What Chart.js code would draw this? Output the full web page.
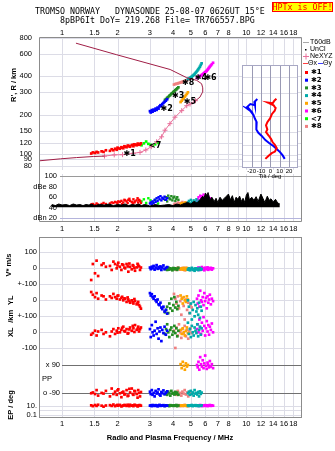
<!DOCTYPE html>
<html>
<head>
<meta charset="utf-8">
<script src="https://cdn.jsdelivr.net/npm/chart.js@4.4.1/dist/chart.umd.min.js"></script>
<style>
  html, body { margin: 0; padding: 0; background: #fff; }
  body { width: 335px; height: 451px; position: relative; overflow: hidden; }
  canvas { position: absolute; }
</style>
</head>
<body>
<canvas id="cHeight" width="335" height="175" style="left:0;top:0"></canvas>
<canvas id="cAmp" width="335" height="66" style="left:0;top:170px"></canvas>
<canvas id="cMid" width="335" height="219" style="left:0;top:232px"></canvas>
<canvas id="cTilt" width="70" height="125" style="left:237px;top:60px"></canvas>
<script>
// ---- axes ----
const FREQ_MIN = 0.75, FREQ_MAX = 20.05;
const freqTicks = [1, 1.5, 2, 3, 4, 5, 6, 7, 8, 10, 12, 14, 16, 18];
const freqTicksAmp = [1, 1.5, 2, 3, 4, 5, 6, 7, 8, 9, 10, 12, 14, 16, 18];
const heightTicks = [80, 90, 100, 120, 150, 200, 300, 400, 600, 800];
const ampTicks = [100, 80, 60, 40, 20];
const ampTickText = ['100', 'dBe 80', '60', '40', 'dBn 20'];
const tiltTicks = [-20, -10, 0, 10, 20];

// ---- electron density profile (plasma frequency MHz, real height km) ----
const profLowFreq = [0.75, 0.98, 1.2, 1.48, 1.7];
const profLowHeight = [87.7, 90.9, 93, 94.8, 95.5];
const neFreq = [1.7, 1.92, 2.13, 2.44, 2.65, 2.85, 3.05, 3.26, 3.47, 3.62, 3.85, 4.10, 4.46, 4.75, 4.95, 5.3];
const neHeight = [95.5, 97.6, 98, 100.5, 102, 106.6, 113, 123.6, 135, 152, 171, 192, 216, 236, 243, 258];
const profTopFreq = [5.3, 5.6, 5.78, 5.8, 5.72, 5.38, 4.75, 3.86, 1.98, 1.19];
const profTopHeight = [258, 275, 300, 325, 350, 372, 390, 452, 589, 725];

// ---- echo classes: frequency, range, amplitude, V*, YL, XL, PP, EP ----
const c1Freq = [1.44,1.47,1.51,1.54,1.57,1.64,1.68,1.73,1.82,1.86,1.90,1.94,1.98,2.00,2.02,2.06,2.10,2.12,2.15,2.18,2.20,2.24,2.27,2.29,2.32,2.34,2.39,2.42,2.44,2.47,2.49,2.54,2.57,2.59,2.62,2.65,2.68];
const c1Range = [100,102,101,103,102,104,103,106,105,108,106,109,107,111,110,109,112,111,110,114,113,112,115,115,114,113,116,117,114,118,117,116,119,119,117,118,120];
const c1Amp = [46,47,45,48,46,47,49,47,48,50,49,51,50,48,52,51,53,47,50,55,54,52,49,55,57,53,51,48,56,50,52,54,58,50,55,53,49];
const c1Vstar = [-73,27,-31,48,-48,21,31,10,15,-10,42,27,0,18,35,10,-10,25,21,5,0,27,12,-21,30,10,-6,20,15,2,-15,6,28,21,12,-10,5];
const c1YL = [52,35,20,45,10,30,25,5,25,15,40,20,10,28,30,5,15,22,0,12,10,-10,18,5,-5,-15,0,-12,-20,8,-5,-25,-18,-10,-30,-40,-52];
const c1XL = [-15,-5,10,-20,5,15,-10,0,-25,5,20,-10,10,-2,25,0,15,28,35,8,5,20,-8,-5,18,30,10,40,25,2,45,15,22,35,5,20,30];
const c1PP = [-90,-85,-95,-70,-105,-88,-92,-75,-110,-60,-95,-80,-100,-72,-65,-90,-115,-85,-80,-98,-95,-70,-108,-105,-62,-85,-60,-95,-100,-75,-78,-95,-118,-70,-88,-110,-82];
const c1EP = [12,8,14,9,16,10,6,11,13,9,18,8,12,15,10,15,7,9,11,14,13,9,16,12,8,16,10,12,8,15,14,11,7,9,13,13,10];

const c2Freq = [3.00,3.03,3.07,3.10,3.14,3.18,3.22,3.26,3.30,3.34,3.38,3.42,3.46,3.50,3.55,3.60,3.66,3.72];
const c2Range = [214,209,218,212,220,216,224,219,228,224,233,238,235,243,248,253,258,265];
const c2Amp = [48,50,46,52,49,55,51,58,53,60,56,62,54,59,57,61,55,58];
const c2Vstar = [5,-5,10,0,15,-8,5,20,-3,8,0,12,-10,5,18,-5,3,8];
const c2YL = [45,30,38,20,10,25,0,-10,5,-25,-30,-15,-45,-55,-40,-70,-60,-83];
const c2XL = [20,-30,45,0,-20,10,66,-10,25,-40,5,30,-55,15,-5,35,-15,10];
const c2PP = [-80,-95,-70,-100,-88,-110,-75,-92,-85,-65,-98,-105,-82,-90,-72,-96,-88,-78];
const c2EP = [10,12,8,14,11,9,13,10,7,12,15,9,11,10,13,8,12,10];

const c3Freq = [3.62,3.67,3.72,3.77,3.82,3.87,3.92,3.97,4.02,4.07,4.12,4.17,4.22,4.28];
const c3Range = [262,266,272,276,282,286,292,296,302,306,312,316,322,328];
const c3Amp = [55,60,52,63,58,56,62,54,59,61,53,57,60,55];
const c3Vstar = [-5,0,-10,5,-8,0,-3,-12,2,-6,0,-4,-9,3];
const c3YL = [-75,-60,-40,-80,-20,-50,10,-65,-30,20,-45,-10,-55,-35];
const c3XL = [-10,20,50,0,-30,15,30,-15,5,40,-5,25,-25,10];
const c3PP = [-95,-85,-100,-80,-90,-105,-75,-92,-88,-98,-82,-94,-86,-100];
const c3EP = [9,11,10,12,8,13,10,11,9,12,10,14,8,11];

const c4Freq = [4.82,4.88,4.94,5.00,5.06,5.12,5.18,5.24,5.30,5.36,5.42,5.48,5.54,5.60,5.66,5.72];
const c4Range = [380,384,388,393,398,404,410,417,425,433,442,452,463,475,490,505];
const c4Amp = [50,53,48,55,51,47,54,49,52,56,48,51,53,49,52,50];
const c4Vstar = [-8,0,-12,-5,3,-10,-3,-15,0,-7,-2,-11,-5,2,-9,-4];
const c4YL = [0,-40,-80,-20,-120,-60,-10,-100,-30,-70,-50,-90,-15,-110,-40,-65];
const c4XL = [60,-10,20,-30,40,0,-20,30,10,-5,50,-25,15,35,-15,25];
const c4PP = [-90,-80,-100,-75,-95,-85,-105,-70,-92,-88,-98,-82,-110,-78,-94,-86];
const c4EP = [11,9,12,10,14,8,11,10,13,9,12,10,8,11,10,12];

const c5Freq = [4.40,4.46,4.52,4.58,4.64,4.70,4.76,4.82];
const c5Range = [252,258,265,270,278,285,292,300];
const c5Amp = [47,49,46,48,50,47,49,48];
const c5Vstar = [-5,0,-8,3,-3,-10,2,-6];
const c5YL = [30,10,-20,20,0,-10,25,5];
const c5XL = [15,-10,25,0,-20,10,30,-5];
const c5PP = [95,70,110,85,60,100,80,90];
const c5EP = [10,12,9,11,13,10,8,12];

const c6Freq = [5.40,5.45,5.50,5.56,5.62,5.68,5.74,5.80,5.86,5.92,5.98,6.04,6.10,6.16,6.22,6.28,6.34,6.42,6.50,6.60];
const c6Range = [388,392,395,398,402,406,410,415,420,425,430,436,442,450,458,467,476,486,497,510];
const c6Amp = [52,56,60,54,63,58,62,55,65,60,57,63,59,54,61,56,58,52,55,50];
const c6Vstar = [0,-5,5,-10,2,-3,8,-7,0,-12,4,-2,-6,6,-9,1,-4,3,-8,0];
const c6YL = [10,-20,30,-40,60,0,-10,20,-30,45,-5,15,-50,25,-15,5,35,-25,10,-5];
const c6XL = [20,50,0,80,30,-10,60,10,95,40,-20,25,70,5,45,-15,35,15,55,0];
const c6PP = [90,75,110,60,140,95,80,120,70,100,150,85,65,105,90,75,115,80,95,70];
const c6EP = [10,12,9,11,14,10,8,12,11,9,13,10,12,8,11,10,14,9,12,10];

const c7Freq = [2.70,2.78,2.86,2.94,3.02,3.10,3.20,3.32];
const c7Range = [116,120,124,119,117,115,118,121];
const c7Amp = [52,56,49,58,54,50,55,48];

const c8Freq = [4.05,4.12,4.18,4.25,4.31,4.38,4.44,4.50,4.57,4.63,4.70,4.77,4.84,4.91,4.98,5.05];
const c8Range = [345,348,350,352,355,357,360,362,365,368,370,373,376,380,384,388];
const c8Amp = [46,48,45,50,47,49,46,51,48,45,50,47,49,46,48,47];
const c8Vstar = [-5,0,-10,5,-3,-8,0,2,-6,-12,3,-4,0,-7,-2,-5];
const c8YL = [40,10,-20,25,-50,-5,-90,15,-35,-120,5,-60,-15,-80,-30,-45];
const c8XL = [10,-98,30,-20,50,0,-35,20,-10,40,-25,15,-40,5,25,-5];
const c8PP = [-90,-82,-100,-75,-95,-88,-105,-80,-92,-70,-98,-85,-110,-90,-78,-95];
const c8EP = [10,12,9,11,13,8,10,12,9,14,11,10,8,12,10,11];

// trace labels in the height panel
const markText = ['✱1', '<7', '✱2', '✱3', '✱5', '✱8', '✱4', '✱6'];
const markFreq = [2.24, 3.08, 3.55, 4.10, 4.75, 4.65, 5.45, 6.15];
const markRange = [100, 114, 224, 283, 251, 357, 390, 390];

// ---- amplitude noise trace ----
const noiseFreq = [0.88,0.92,0.96,1.0,1.05,1.1,1.15,1.2,1.25,1.3,1.35,1.4,1.45,1.5,1.6,1.7,1.8,1.9,2.0,2.1,2.2,2.3,2.4,2.5,2.6,2.7,2.8,2.9,3.0,3.2,3.4,3.6,3.8,4.0,4.2,4.4,4.6,4.8,5.0,5.2,5.4,5.6,5.8,5.9,6.0,6.1,6.2,6.35,6.5,6.7,6.85,7.0,7.2,7.4,7.6,7.8,8.0,8.2,8.4,8.6,8.8,9.0,9.2,9.4,9.6,9.8,10.0,10.2,10.4,10.7,11.0,11.3,11.6,12.0,12.3,12.6,13.0,13.3,13.6,14.0,14.4,14.8,15.2];
const noiseDb = [46,44,47,45,46,44,47,45,46,44,46,45,47,44,46,45,47,44,46,45,47,44,46,45,47,44,46,45,43,46,44,45,46,44,47,45,48,50,47,52,49,55,62,58,68,63,69,55,60,52,58,50,60,54,58,62,66,55,63,50,60,56,62,52,58,50,64,69,55,60,54,61,52,66,58,50,62,54,57,51,56,49,47];

// ---- tilt inset ----
const thetaXHeight = [272,263,251,254,242,236,231,220,208,192,180,170,158,151,142,134,126,121,114,107,104,99,94];
const thetaX = [6.5,4.3,2.5,-2.5,3.6,4.7,5.7,4.7,1.8,-0.3,-3.2,-4.6,-3.2,-4.6,-1.8,0.7,2.5,4.7,6.8,5.0,1.5,-2.1,-5.3];
const thetaYHeight = [271,257,243,248,236,223,228,218,205,191,180,168,158,149,141,131,124,118,112,106,100,94];
const thetaY = [-13.9,-17.1,-16.4,-21.4,-24.6,-21.7,-24.6,-21.0,-18.1,-16.4,-14.6,-14.6,-15.3,-12.8,-9.2,-5.3,-1.0,3.2,6.8,10.4,13.2,15.4];

const CLASSES = [
  { name: '✱1', color: '#ff0000', f: c1Freq, r: c1Range, a: c1Amp, vs: c1Vstar, yl: c1YL, xl: c1XL, pp: c1PP, ep: c1EP },
  { name: '✱2', color: '#0000ff', f: c2Freq, r: c2Range, a: c2Amp, vs: c2Vstar, yl: c2YL, xl: c2XL, pp: c2PP, ep: c2EP },
  { name: '✱3', color: '#228b22', f: c3Freq, r: c3Range, a: c3Amp, vs: c3Vstar, yl: c3YL, xl: c3XL, pp: c3PP, ep: c3EP },
  { name: '✱4', color: '#00aaaa', f: c4Freq, r: c4Range, a: c4Amp, vs: c4Vstar, yl: c4YL, xl: c4XL, pp: c4PP, ep: c4EP },
  { name: '✱5', color: '#ffa500', f: c5Freq, r: c5Range, a: c5Amp, vs: c5Vstar, yl: c5YL, xl: c5XL, pp: c5PP, ep: c5EP },
  { name: '✱6', color: '#ff00ff', f: c6Freq, r: c6Range, a: c6Amp, vs: c6Vstar, yl: c6YL, xl: c6XL, pp: c6PP, ep: c6EP },
  { name: '<7', color: '#00ff00', f: c7Freq, r: c7Range, a: c7Amp },
  { name: '✱8', color: '#f08080', f: c8Freq, r: c8Range, a: c8Amp, vs: c8Vstar, yl: c8YL, xl: c8XL, pp: c8PP, ep: c8EP },
];

const FONT = '"Liberation Sans", Arial, sans-serif';
const MONO = '"DejaVu Sans Mono", monospace';
const GRID = '#dcdce6';
const FRAME = '#8c8c8c';
const MAROON = '#a01e46';
const PINK = '#e8709a';

// rows of the lower panel share one linear axis
const ROW_YL = -200, ROW_XL = -400;
const ppRow = v => -692.8 + v * 0.982;
const epRow = v => -859 + (Math.log10(v) - 1) * 28.1;

const pairs = (xs, ys) => xs.map((x, i) => ({ x, y: ys[i] }));
const crisp = v => Math.round(v) + 0.5;

function seg(ctx, x1, y1, x2, y2) {
  ctx.beginPath(); ctx.moveTo(x1, y1); ctx.lineTo(x2, y2); ctx.stroke();
}
function txt(ctx, s, x, y, align = 'center', font = '7.5px ' + FONT, color = '#000') {
  ctx.font = font; ctx.fillStyle = color; ctx.textAlign = align; ctx.textBaseline = 'middle';
  ctx.fillText(s, x, y);
}
function vtxt(ctx, s, x, y, font = '7.5px ' + FONT) {
  ctx.save(); ctx.translate(x, y); ctx.rotate(-Math.PI / 2);
  txt(ctx, s, 0, 0, 'center', font); ctx.restore();
}
function freqGrid(chart, ticks) {
  const { ctx, chartArea: a, scales: { x } } = chart;
  ctx.strokeStyle = GRID; ctx.lineWidth = 1;
  ticks.forEach(f => { const p = crisp(x.getPixelForValue(f)); seg(ctx, p, a.top, p, a.bottom); });
}

const echoStyle = c => ({
  backgroundColor: c.color, borderWidth: 0, pointStyle: 'rect', pointRadius: 1.9, showLine: false,
});
const baseOptions = (pad, y) => ({
  responsive: false, animation: false, devicePixelRatio: 1,
  layout: { padding: pad },
  scales: { x: { type: 'logarithmic', min: FREQ_MIN, max: FREQ_MAX, display: false }, y },
  plugins: { legend: { display: false }, tooltip: { enabled: false } },
});

// ---------- height panel ----------
const heightDeco = {
  id: 'heightDeco',
  beforeDatasetsDraw(chart) {
    const { ctx, chartArea: a, scales: { y } } = chart;
    ctx.save();
    freqGrid(chart, freqTicksAmp);
    heightTicks.forEach(h => { const p = crisp(y.getPixelForValue(h)); seg(ctx, a.left, p, a.right, p); });
    ctx.restore();
  },
  afterDatasetsDraw(chart) {
    const { ctx, scales: { x, y } } = chart;
    ctx.save();
    markText.forEach((t, i) => {
      txt(ctx, t, x.getPixelForValue(markFreq[i]) - 3, y.getPixelForValue(markRange[i]), 'left', 'bold 8px "DejaVu Sans"');
    });
    ctx.restore();
  },
  afterDraw(chart) {
    const { ctx, chartArea: a, scales: { x, y } } = chart;
    ctx.save();
    // header
    txt(ctx, 'TROMSO NORWAY   DYNASONDE 25-08-07 0626UT 15°E', 35, 12, 'left', '8.3px ' + MONO);
    txt(ctx, '8pBP6It DoY= 219.268 File= TR766557.BPG', 60, 21, 'left', '8.3px ' + MONO);
    ctx.fillStyle = '#ffff00'; ctx.fillRect(272, 2, 61, 10);
    ctx.strokeStyle = '#ff0000'; ctx.lineWidth = 1; ctx.strokeRect(272.5, 2.5, 60, 9);
    txt(ctx, 'HPTx is OFF!', 302.5, 7.5, 'center', '8.3px ' + MONO, '#ff0000');
    // frame
    ctx.strokeStyle = FRAME;
    seg(ctx, 39.5, a.top + 0.5, 39.5, 175); seg(ctx, 301.5, a.top + 0.5, 301.5, 175);
    seg(ctx, 39.5, a.top + 0.5, 301.5, a.top + 0.5);
    // ticks
    freqTicks.forEach(f => txt(ctx, String(f), x.getPixelForValue(f), 33));
    heightTicks.forEach(h => txt(ctx, String(h), 32, y.getPixelForValue(h), 'right'));
    vtxt(ctx, "R', R / km", 14, 85, 'bold 7.5px ' + FONT);
    // legend
    const lf = '7px ' + FONT;
    ctx.strokeStyle = '#a8a8a8'; seg(ctx, 303, 42.5, 309, 42.5); txt(ctx, 'T60dB', 310, 42.5, 'left', lf);
    ctx.fillStyle = '#000'; ctx.fillRect(305, 49, 1.5, 1.5); txt(ctx, 'UnCl', 310, 49.5, 'left', lf);
    ctx.strokeStyle = PINK; seg(ctx, 303, 56.5, 309, 56.5); seg(ctx, 306, 53.5, 306, 59.5);
    txt(ctx, 'NeXYZ', 310, 56.5, 'left', lf);
    ctx.strokeStyle = '#ff4040'; seg(ctx, 303, 63.5, 308, 63.5); txt(ctx, 'Θx', 308, 63.5, 'left', lf);
    ctx.strokeStyle = '#4040ff'; seg(ctx, 318, 63.5, 323, 63.5); txt(ctx, 'Θy', 323, 63.5, 'left', lf);
    CLASSES.forEach((c, i) => {
      const yy = 72.5 + i * 7.7;
      ctx.fillStyle = c.color; ctx.fillRect(305, yy - 1.5, 3, 3);
      txt(ctx, c.name, 311, yy, 'left', 'bold 7px "DejaVu Sans"');
    });
    ctx.restore();
  }
};

new Chart(document.getElementById('cHeight'), {
  type: 'scatter',
  data: {
    datasets: [
      { data: pairs(profLowFreq, profLowHeight), showLine: true, borderColor: MAROON, borderWidth: 1, pointRadius: 0 },
      { data: pairs(profTopFreq, profTopHeight), showLine: true, borderColor: MAROON, borderWidth: 1, pointRadius: 0 },
      { data: pairs(neFreq, neHeight), showLine: true, borderColor: PINK, borderWidth: 1,
        pointStyle: 'cross', pointRadius: 2.5, pointBorderColor: PINK, pointBorderWidth: 1 },
      ...CLASSES.map(c => ({ data: pairs(c.f, c.r), ...echoStyle(c) })),
    ]
  },
  options: baseOptions({ left: 39, right: 33, top: 37, bottom: 3 },
    { type: 'logarithmic', min: 74.4, max: 810, display: false }),
  plugins: [heightDeco]
});

// ---------- amplitude panel ----------
const ampDeco = {
  id: 'ampDeco',
  beforeDatasetsDraw(chart) {
    const { ctx, chartArea: a, scales: { y } } = chart;
    ctx.save();
    freqGrid(chart, freqTicksAmp);
    ctx.strokeStyle = '#9a9a9a'; let p = crisp(y.getPixelForValue(100)); seg(ctx, 60, p, a.right, p);
    ctx.strokeStyle = '#b4b4dc'; p = crisp(y.getPixelForValue(20)); seg(ctx, 60, p, a.right, p);
    ctx.restore();
  },
  afterDraw(chart) {
    const { ctx, chartArea: a, scales: { x, y } } = chart;
    ctx.save();
    ctx.strokeStyle = FRAME; ctx.lineWidth = 1;
    seg(ctx, 39.5, 0, 39.5, a.bottom - 0.5); seg(ctx, 301.5, 0, 301.5, a.bottom - 0.5);
    seg(ctx, 39.5, a.bottom - 0.5, 301.5, a.bottom - 0.5);
    ampTicks.forEach((v, i) => txt(ctx, ampTickText[i], 57, y.getPixelForValue(v), 'right'));
    freqTicksAmp.forEach(f => txt(ctx, String(f), x.getPixelForValue(f), a.bottom + 7));
    ctx.restore();
  }
};

new Chart(document.getElementById('cAmp'), {
  type: 'scatter',
  data: {
    datasets: [
      { data: pairs(noiseFreq, noiseDb), showLine: true, borderColor: '#000', borderWidth: 1, pointRadius: 0,
        backgroundColor: '#000', fill: { value: 41 } },
      ...CLASSES.map(c => ({ data: pairs(c.f, c.a), ...echoStyle(c), pointRadius: 1.7 })),
    ]
  },
  options: baseOptions({ left: 39, right: 33, top: 3, bottom: 14 },
    { type: 'linear', min: 12.5, max: 104.5, display: false }),
  plugins: [ampDeco]
});

// ---------- drift / location / polarisation panel ----------
const MID_TOP = 232;
function midPoints(c) {
  const pts = [];
  c.f.forEach((f, i) => {
    pts.push({ x: f, y: c.vs[i] });
    pts.push({ x: f, y: c.yl[i] + ROW_YL });
    pts.push({ x: f, y: c.xl[i] + ROW_XL });
    pts.push({ x: f, y: ppRow(c.pp[i]) });
    pts.push({ x: f, y: epRow(c.ep[i]) });
  });
  return pts;
}
const midLabels = [
  ['100', 100], ['0', 0], ['+-100', -100], ['0', ROW_YL], ['+-100', ROW_YL - 100],
  ['0', ROW_XL], ['-100', ROW_XL - 100], ['10.', epRow(10)], ['0.1', epRow(0.1)],
];
const midDeco = {
  id: 'midDeco',
  beforeDatasetsDraw(chart) {
    const { ctx, chartArea: a, scales: { y } } = chart;
    ctx.save();
    freqGrid(chart, freqTicksAmp);
    [100, 0, -100, ROW_YL, ROW_YL - 100, ROW_XL, ROW_XL - 100, epRow(10), epRow(1), epRow(0.1)].forEach(v => {
      const p = crisp(y.getPixelForValue(v)); seg(ctx, a.left, p, a.right, p);
    });
    ctx.strokeStyle = '#707070';
    [90, -90].forEach(v => { const p = crisp(y.getPixelForValue(ppRow(v))); seg(ctx, 62, p, a.right, p); });
    ctx.restore();
  },
  afterDraw(chart) {
    const { ctx, chartArea: a, scales: { x, y } } = chart;
    ctx.save();
    ctx.strokeStyle = FRAME; ctx.lineWidth = 1;
    ctx.strokeRect(39.5, a.top + 0.5, 262, a.bottom - a.top - 1);
    midLabels.forEach(([t, v]) => txt(ctx, t, 37, y.getPixelForValue(v), 'right'));
    txt(ctx, 'x 90', 60, y.getPixelForValue(ppRow(90)), 'right');
    txt(ctx, 'o -90', 60, y.getPixelForValue(ppRow(-90)), 'right');
    txt(ctx, 'PP', 42, y.getPixelForValue(ppRow(0)), 'left');
    const bf = 'bold 7.5px ' + FONT;
    vtxt(ctx, 'V* m/s', 9, 265 - MID_TOP, bf);
    vtxt(ctx, 'YL', 11, y.getPixelForValue(ROW_YL), bf);
    vtxt(ctx, '/km', 11, y.getPixelForValue(ROW_YL - 100), bf);
    vtxt(ctx, 'XL', 11, y.getPixelForValue(ROW_XL), bf);
    vtxt(ctx, 'EP / deg', 11, 405 - MID_TOP, bf);
    freqTicks.forEach(f => txt(ctx, String(f), x.getPixelForValue(f), a.bottom + 6));
    txt(ctx, 'Radio and Plasma Frequency / MHz', 170, a.bottom + 20, 'center', bf);
    ctx.restore();
  }
};

new Chart(document.getElementById('cMid'), {
  type: 'scatter',
  data: { datasets: CLASSES.filter(c => c.vs).map(c => ({ data: midPoints(c), ...echoStyle(c) })) },
  options: baseOptions({ left: 39, right: 33, top: 5, bottom: 33 },
    { type: 'linear', min: -936, max: 196, display: false }),
  plugins: [midDeco]
});

// ---------- tilt inset ----------
const tiltDeco = {
  id: 'tiltDeco',
  beforeDatasetsDraw(chart) {
    const { ctx, chartArea: a, scales: { x, y } } = chart;
    ctx.save();
    ctx.fillStyle = '#fff'; ctx.fillRect(a.left, a.top, a.right - a.left, a.bottom - a.top);
    ctx.lineWidth = 1; ctx.strokeStyle = GRID;
    heightTicks.forEach(h => { const p = crisp(y.getPixelForValue(h)); if (p > a.top && p < a.bottom) seg(ctx, a.left, p, a.right, p); });
    ctx.strokeStyle = '#9a9ab4';
    tiltTicks.forEach(t => { const p = crisp(x.getPixelForValue(t)); seg(ctx, p, a.top, p, a.bottom); });
    ctx.restore();
  },
  afterDraw(chart) {
    const { ctx, chartArea: a, scales: { x } } = chart;
    ctx.save();
    ctx.strokeStyle = '#a8a8c4'; ctx.lineWidth = 1;
    ctx.strokeRect(a.left + 0.5, a.top + 0.5, a.right - a.left - 1, a.bottom - a.top - 1);
    tiltTicks.forEach(t => txt(ctx, String(t), x.getPixelForValue(t), a.bottom + 3.5, 'center', '6px ' + FONT));
    txt(ctx, 'Tilt / deg', (a.left + a.right) / 2, a.bottom + 8.5, 'center', '6px ' + FONT);
    ctx.restore();
  }
};

new Chart(document.getElementById('cTilt'), {
  type: 'scatter',
  data: {
    datasets: [
      { data: pairs(thetaX, thetaXHeight), showLine: true, borderColor: '#ff0000', borderWidth: 2, pointRadius: 0 },
      { data: pairs(thetaY, thetaYHeight), showLine: true, borderColor: '#0000ff', borderWidth: 2, pointRadius: 0 },
    ]
  },
  options: {
    responsive: false, animation: false, devicePixelRatio: 1,
    layout: { padding: { left: 5, right: 9, top: 5, bottom: 17 } },
    scales: {
      x: { type: 'linear', min: -30.3, max: 29.6, display: false },
      y: { type: 'logarithmic', min: 80, max: 494, display: false }
    },
    plugins: { legend: { display: false }, tooltip: { enabled: false } }
  },
  plugins: [tiltDeco]
});
</script>
</body>
</html>
